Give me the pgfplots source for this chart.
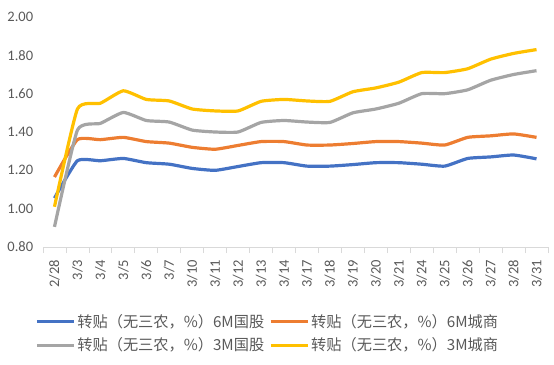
\documentclass[border=0pt]{standalone}
\usepackage{pgfplots}
\pgfplotsset{compat=1.18}
\usepackage{fontspec}
\setmainfont{Carlito}
\newfontfamily\cjk{Noto Sans CJK SC}
\definecolor{cblue}{HTML}{4472C4}
\definecolor{corange}{HTML}{ED7D31}
\definecolor{cgray}{HTML}{A5A5A5}
\definecolor{cyellow}{HTML}{FFC000}
\definecolor{ctext}{HTML}{595959}
\definecolor{caxis}{HTML}{D9D9D9}
\begin{document}
\begin{tikzpicture}[x=1pt,y=1pt]
\path[use as bounding box] (0,0) rectangle (554,-364);
\begin{axis}[
  at={(43pt,-247pt)}, anchor=south west,
  scale only axis, width=505pt, height=230pt,
  xmin=-0.5, xmax=21.5, ymin=0.8, ymax=2.0,
  ytick={0.8,1.0,...,2.0},
  yticklabel style={/pgf/number format/.cd, fixed, fixed zerofill, precision=2, assume math mode=true},
  ticklabel style={font=\fontsize{14.5}{16}\selectfont, text=ctext},
  xtick={0,...,21},
  xticklabels={2/28,3/3,3/4,3/5,3/6,3/7,3/10,3/11,3/12,3/13,3/14,3/17,3/18,3/19,3/20,3/21,3/24,3/25,3/26,3/27,3/28,3/31},
  xticklabel style={rotate=90, anchor=east},
  major x tick style={draw=none},
  minor xtick={-0.5,0.5,...,21.5},
  minor x tick style={draw=caxis, line width=0.8pt},
  minor tick length=6pt,
  tick align=outside,
  axis x line*=bottom, axis y line*=left,
  x axis line style={draw=caxis, line width=0.8pt, -},
  y axis line style={draw=none},
  ytick style={draw=none},
  yticklabel shift=2pt,
  xticklabel shift=5pt,
  legend columns=2,
  legend style={at={(axis description cs:0.445,-0.375)}, anchor=center, draw=none, fill=none,
    font=\cjk\fontsize{15.2}{18}\selectfont, text=ctext,
    /tikz/every even column/.append style={column sep=3pt},
    row sep=5pt},
  legend image code/.code={\draw[#1, line width=3pt] (0pt,0pt) -- (37pt,0pt);},
  every axis plot/.append style={line width=3.2pt, smooth, tension=0.3},
]
\addplot[cblue] coordinates {(0,1.055)(1,1.25)(2,1.25)(3,1.262)(4,1.24)(5,1.232)(6,1.21)(7,1.20)(8,1.22)(9,1.24)(10,1.24)(11,1.222)(12,1.222)(13,1.23)(14,1.24)(15,1.24)(16,1.232)(17,1.222)(18,1.262)(19,1.27)(20,1.28)(21,1.26)};
\addlegendentry{转贴（无三农，\%）6M国股}
\addplot[corange] coordinates {(0,1.165)(1,1.36)(2,1.36)(3,1.372)(4,1.35)(5,1.342)(6,1.32)(7,1.31)(8,1.33)(9,1.35)(10,1.35)(11,1.332)(12,1.332)(13,1.34)(14,1.35)(15,1.35)(16,1.342)(17,1.332)(18,1.372)(19,1.38)(20,1.39)(21,1.372)};
\addlegendentry{转贴（无三农，\%）6M城商}
\addplot[cgray] coordinates {(0,0.905)(1,1.41)(2,1.445)(3,1.502)(4,1.46)(5,1.452)(6,1.41)(7,1.40)(8,1.40)(9,1.45)(10,1.46)(11,1.452)(12,1.45)(13,1.50)(14,1.52)(15,1.55)(16,1.60)(17,1.60)(18,1.62)(19,1.67)(20,1.70)(21,1.72)};
\addlegendentry{转贴（无三农，\%）3M国股}
\addplot[cyellow] coordinates {(0,1.01)(1,1.52)(2,1.55)(3,1.615)(4,1.57)(5,1.562)(6,1.52)(7,1.51)(8,1.51)(9,1.56)(10,1.57)(11,1.562)(12,1.56)(13,1.61)(14,1.63)(15,1.66)(16,1.71)(17,1.71)(18,1.73)(19,1.78)(20,1.81)(21,1.83)};
\addlegendentry{转贴（无三农，\%）3M城商}
\end{axis}
\end{tikzpicture}
\end{document}
